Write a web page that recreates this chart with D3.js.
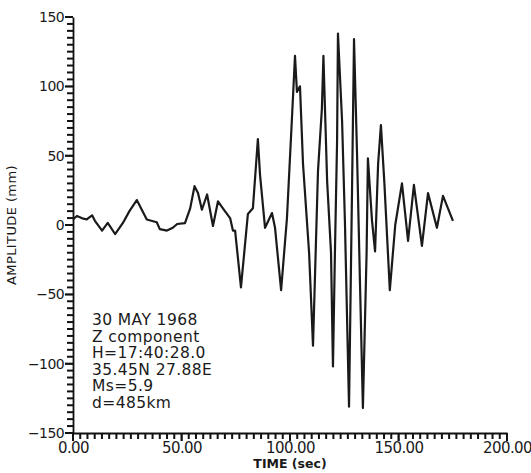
<!DOCTYPE html>
<html>
<head>
<meta charset="utf-8">
<script src="https://cdn.jsdelivr.net/npm/d3@7"></script>
<style>
  html, body { margin: 0; padding: 0; background: #fff; }
  svg { display: block; }
  text { font-family: "DejaVu Sans", sans-serif; fill: #1a1a1a; }
</style>
</head>
<body>
<svg id="chart" width="531" height="473"></svg>
<script>
// Seismogram samples: time (s) and vertical-component amplitude (mm)
const times = [0, 1.8, 4, 6.3, 8.8, 10.1, 13.4, 16, 19.4, 23, 26, 29.4, 34, 38.6, 40, 43.3, 46, 48,
  51.6, 54, 56, 57.6, 59.4, 61.8, 64.5, 66.8, 70, 72.4, 73.7, 74.7, 77.4, 80.6, 82.9, 85.2, 86.2,
  88.5, 91.7, 93.1, 95.9, 98.6, 100.9, 102.3, 103.2, 104.6, 106, 108.8, 110.6, 112.9, 114.7, 115.4,
  117.1, 118.9, 119.8, 120.7, 121.7, 122.1, 124, 125.3, 127.2, 128.6, 129.5, 130.9, 132.3, 133.6,
  135.3, 135.9, 137.8, 139.2, 140.6, 141.9, 143.5, 146, 148.5, 151.6, 154.4, 157.1, 160.8, 163.6,
  167.7, 170.5, 172.8, 175.1];
const amplitudes = [4, 6.5, 5, 4, 7, 3, -4, 1.5, -6.5, 1.5, 10, 18, 4, 2, -3, -4, -2, 0.7,
  1.4, 12, 28, 23, 11, 22, -0.7, 17, 10, 5, -4, -4, -45, 8, 12, 62, 36,
  -2, 8.6, -2, -47, 5, 77, 122, 96, 100, 44, -20, -87, 39, 84, 122,
  32, -20, -102, -20, 61, 138, 75, 3, -131, 27, 134, 51, -45, -132,
  -20, 48, 3, -19, 44, 72, 30, -47, 0, 30, -11.5, 29, -15, 23,
  -2, 21, 12, 3];

// Axis ticks
const xMajorTicks = [0, 50, 100, 150, 200];
const yMajorTicks = [-150, -100, -50, 0, 50, 100, 150];

// Event annotation
const infoLines = ["30  MAY  1968", "Z  component", "H=17:40:28.0", "35.45N  27.88E", "Ms=5.9", "d=485km"];

const svg = d3.select("#chart");
const x = d3.scaleLinear().domain([0, 200]).range([73, 507]);
const y = d3.scaleLinear().domain([-150, 150]).range([433, 17]);

const ink = "#111";

// Minor tick positions
const xMinor = d3.range(0, 200.001, 10 / 3);
const yMinor = d3.range(-150, 150.001, 5);

// Labelled axes
const gx = svg.append("g").attr("transform", `translate(0,${y(-150)})`)
  .call(d3.axisBottom(x).tickValues(xMajorTicks).tickSizeInner(8).tickSizeOuter(0)
    .tickFormat(d3.format(".2f")).tickPadding(1));
gx.select("path.domain").attr("stroke", ink).attr("stroke-width", 1.8);
gx.selectAll("text").attr("font-size", 15).attr("fill", ink)
  .style("font-family", "DejaVu Sans").attr("letter-spacing", -0.6);

const gy = svg.append("g").attr("transform", `translate(${x(0)},0)`)
  .call(d3.axisLeft(y).tickValues(yMajorTicks).tickSizeInner(8).tickSizeOuter(0)
    .tickFormat(d => d < 0 ? "\u2212" + Math.abs(d) : String(d)).tickPadding(1));
gy.select("path.domain").attr("stroke", ink).attr("stroke-width", 1.8);
gy.selectAll("text").attr("font-size", 14).attr("fill", ink)
  .style("font-family", "DejaVu Sans").attr("letter-spacing", -0.6);

// Tick marks as small filled bars placed by the scales
const x0 = x(0), yBase = y(-150);
svg.append("g").attr("class", "ticks-x")
  .selectAll("rect").data(xMinor).join("rect")
  .attr("x", d => x(d) - 1)
  .attr("y", yBase)
  .attr("width", 2)
  .attr("height", d => xMajorTicks.some(m => Math.abs(m - d) < 0.01) ? 8 : 6)
  .attr("fill", ink);
svg.append("g").attr("class", "ticks-y")
  .selectAll("rect").data(yMinor).join("rect")
  .attr("x", d => x0 - (yMajorTicks.includes(d) ? 8 : 6))
  .attr("y", d => y(d) - 1)
  .attr("width", d => yMajorTicks.includes(d) ? 8 : 6)
  .attr("height", 2)
  .attr("fill", ink);

// Axis titles
svg.append("text")
  .attr("x", x(100)).attr("y", 468)
  .attr("text-anchor", "middle")
  .attr("font-size", 12.5).attr("font-weight", "bold")
  .text("TIME  (sec)");

svg.append("text")
  .attr("transform", `translate(16,${y(0)}) rotate(-90)`)
  .attr("text-anchor", "middle")
  .attr("font-size", 13)
  .attr("letter-spacing", 0.4)
  .text("AMPLITUDE  (mm)");

// Waveform trace
const pts = times.map((t, i) => [t, amplitudes[i]]);
svg.append("path")
  .datum(pts)
  .attr("fill", "none")
  .attr("stroke", "#1a1a1a")
  .attr("stroke-width", 2.2)
  .attr("stroke-linejoin", "round")
  .attr("d", d3.line().x(d => x(d[0])).y(d => y(d[1])));

// Annotation block
const info = svg.append("g").attr("transform", "translate(92,325)");
info.selectAll("text").data(infoLines).join("text")
  .attr("x", 0)
  .attr("y", (d, i) => i * 16.6)
  .attr("font-size", 15.5)
  .attr("letter-spacing", 0.4)
  .text(d => d);
</script>
</body>
</html>
